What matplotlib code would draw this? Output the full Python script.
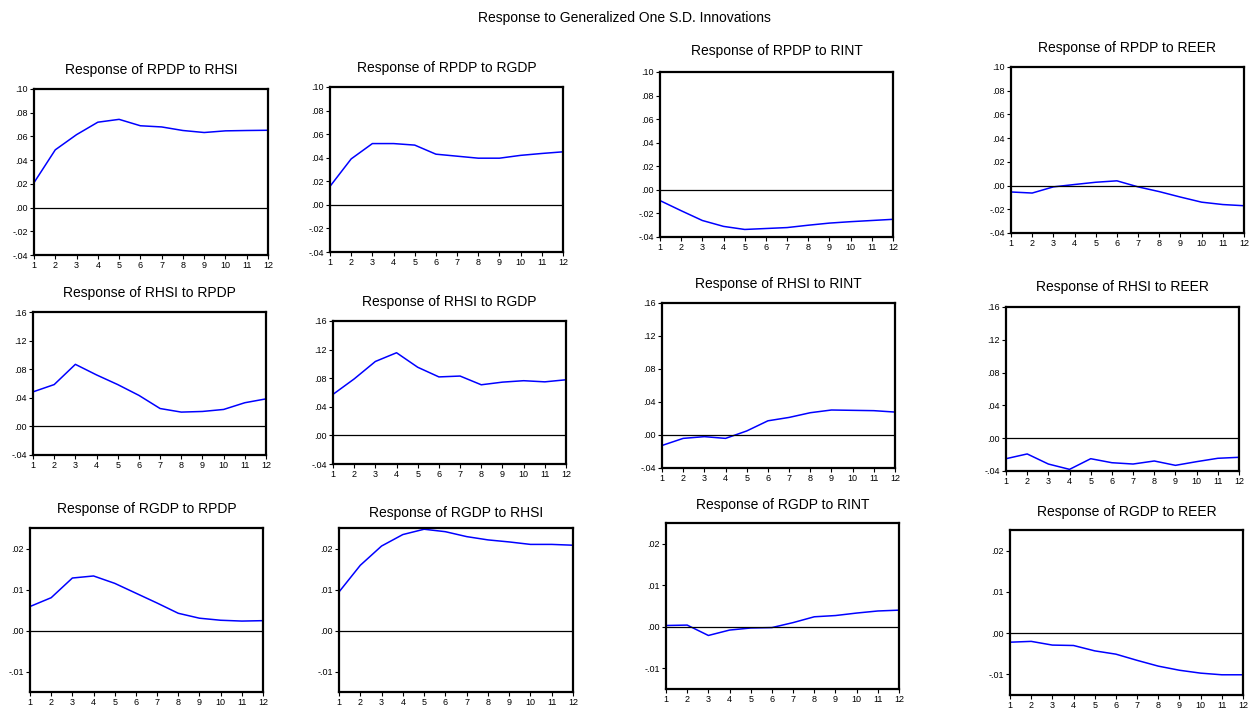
import matplotlib
matplotlib.use("Agg")
import matplotlib.pyplot as plt
from matplotlib.ticker import FuncFormatter

plt.rcParams['font.family'] = ['Liberation Sans', 'DejaVu Sans']

# periods
periods = list(range(1, 13))

# responses, one list per panel
rpdp_rhsi = [.021, .0487, .0615, .072, .0744, .069, .068, .065, .0633, .0647, .065, .0652]
rpdp_rgdp = [.0157, .039, .052, .052, .0507, .043, .0413, .0396, .0396, .042, .0436, .045]
rpdp_rint = [-.0091, -.0177, -.026, -.031, -.0336, -.0328, -.032, -.030, -.0282, -.027, -.026, -.025]
rpdp_reer = [-.0054, -.0063, -.0011, .0009, .0028, .004, -.0011, -.0051, -.0097, -.014, -.016, -.017]

rhsi_rpdp = [.0483, .0585, .0868, .072, .0585, .0434, .025, .020, .0209, .0237, .0331, .0385]
rhsi_rgdp = [.0574, .079, .1034, .1156, .0953, .0818, .083, .0708, .0745, .0765, .0749, .0778]
rhsi_rint = [-.0127, -.0041, -.002, -.0041, .0049, .0172, .0213, .027, .0303, .0299, .0295, .0278]
rhsi_reer = [-.025, -.0192, -.0315, -.038, -.025, -.0299, -.0315, -.0278, -.0331, -.0286, -.0245, -.0233]

rgdp_rpdp = [.00585, .008, .0128, .0133, .0115, .0091, .0067, .0042, .003, .0025, .0023, .0024]
rgdp_rhsi = [.0094, .0159, .0206, .0234, .0247, .0241, .0229, .0221, .0216, .021, .021, .0208]
rgdp_rint = [.0003, .0004, -.0021, -.0008, -.0003, -.0002, .001, .0024, .0027, .0033, .0038, .004]
rgdp_reer = [-.0022, -.002, -.0029, -.003, -.0043, -.0051, -.0066, -.008, -.009, -.0097, -.0101, -.0101]

titles = [
    ["Response of RPDP to RHSI", "Response of RPDP to RGDP", "Response of RPDP to RINT", "Response of RPDP to REER"],
    ["Response of RHSI to RPDP", "Response of RHSI to RGDP", "Response of RHSI to RINT", "Response of RHSI to REER"],
    ["Response of RGDP to RPDP", "Response of RGDP to RHSI", "Response of RGDP to RINT", "Response of RGDP to REER"],
]
series = [
    [rpdp_rhsi, rpdp_rgdp, rpdp_rint, rpdp_reer],
    [rhsi_rpdp, rhsi_rgdp, rhsi_rint, rhsi_reer],
    [rgdp_rpdp, rgdp_rhsi, rgdp_rint, rgdp_reer],
]
ylims = [(-0.04, 0.10), (-0.04, 0.16), (-0.015, 0.025)]
yticks = [
    [-.04, -.02, .00, .02, .04, .06, .08, .10],
    [-.04, .00, .04, .08, .12, .16],
    [-.01, .00, .01, .02],
]

# axes boxes in pixels: (left, top, right, bottom), plus title centre y
boxes = [
    [(34, 89, 268, 255, 70), (330, 87, 563, 252, 68), (660, 72, 893, 237, 51), (1011, 67, 1244, 233, 48)],
    [(33, 312, 266, 455, 293), (333, 321, 566, 464, 302), (662, 303, 895, 468, 284), (1006, 307, 1239, 471, 287)],
    [(30, 528, 263, 692, 509), (339, 528, 573, 692, 513), (666, 523, 899, 689, 505), (1010, 530, 1243, 695, 512)],
]

W, H = 1249, 711


def fmt(v, pos):
    s = f"{v:.2f}"
    return s.replace("0.", ".", 1)


fig = plt.figure(figsize=(W / 100, H / 100), dpi=100)
fig.text(0.5, 1 - 18 / H, "Response to Generalized One S.D. Innovations",
         ha='center', va='center', fontsize=10)

for r in range(3):
    for c in range(4):
        l, t, rr, b, ty = boxes[r][c]
        ax = fig.add_axes([l / W, 1 - b / H, (rr - l) / W, (b - t) / H])
        ax.plot(periods, series[r][c], color='#0000ff', lw=1.1)
        ax.axhline(0, color='black', lw=0.9)
        ax.set_xlim(1, 12)
        ax.set_ylim(*ylims[r])
        ax.set_xticks(periods)
        ax.set_yticks(yticks[r])
        ax.yaxis.set_major_formatter(FuncFormatter(fmt))
        ax.tick_params(labelsize=6.5, length=3, width=0.8, pad=1.5, direction='out')
        for sp in ax.spines.values():
            sp.set_linewidth(1.6)
        fig.text((l + rr) / 2 / W, 1 - ty / H, titles[r][c],
                 ha='center', va='center', fontsize=10)

fig.savefig("out.png", dpi=100)
